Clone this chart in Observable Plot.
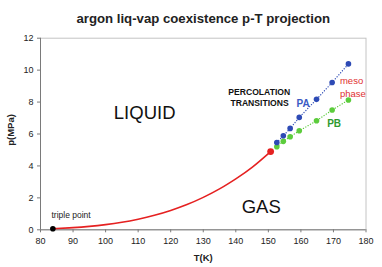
<!DOCTYPE html>
<html>
<head>
<meta charset="utf-8">
<script src="https://cdn.jsdelivr.net/npm/d3@7"></script>
<script src="https://cdn.jsdelivr.net/npm/@observablehq/plot@0.6"></script>
<style>
  html, body { margin: 0; padding: 0; background: #fff; }
</style>
</head>
<body>
<div id="chart"></div>
<script>
// Coexistence curve (vapour pressure)
const curveT = [83.8, 85, 90, 95, 100, 105, 110, 115, 120, 125, 130, 135, 140, 145, 150.7];
const curveP = [0.069, 0.079, 0.134, 0.213, 0.324, 0.470, 0.665, 0.908, 1.213, 1.58, 2.03, 2.56, 3.19, 3.91, 4.90];

// Percolation transitions
const percT = [152.6, 154.6, 156.7, 159.5, 164.8, 169.6, 174.6];
const paP = [5.47, 5.89, 6.35, 7.04, 8.17, 9.23, 10.39];
const pbP = [5.20, 5.54, 5.83, 6.20, 6.83, 7.50, 8.13];

const tripleT = [83.8];
const tripleP = [0.07];
const criticalT = [150.7];
const criticalP = [4.90];

const xTicks = [80, 90, 100, 110, 120, 130, 140, 150, 160, 170, 180];
const yTicks = [0, 2, 4, 6, 8, 10, 12];

const title = "argon liq-vap coexistence p-T projection";
const xLabel = "T(K)";
const yLabel = "p(MPa)";

const labelNames = ["LIQUID", "GAS", "PERCOLATION", "TRANSITIONS", "PA", "meso", "phase", "PB", "triple point"];
const labelT = [112, 147.8, 147.2, 147.3, 160.7, 172, 172, 170.2, 89.4];
const labelP = [7.3, 1.4, 8.62, 7.9, 7.92, 9.32, 8.48, 6.66, 0.94];

const curve = curveT.map((t, i) => ({T: t, p: curveP[i]}));
const pa = percT.map((t, i) => ({T: t, p: paP[i]}));
const pb = percT.map((t, i) => ({T: t, p: pbP[i]}));
const triple = tripleT.map((t, i) => ({T: t, p: tripleP[i]}));
const critical = criticalT.map((t, i) => ({T: t, p: criticalP[i]}));
const lab = (i) => [{T: labelT[i], p: labelP[i], s: labelNames[i]}];

const font = "'Liberation Sans', Arial, sans-serif";

const chart = Plot.plot({
  width: 382,
  height: 267,
  marginLeft: 40,
  marginRight: 16.5,
  marginTop: 37.7,
  marginBottom: 37.7,
  style: {fontFamily: font, background: "#fff", color: "#222"},
  x: {domain: [80, 180]},
  y: {domain: [0, 12]},
  marks: [
    Plot.frame({stroke: "#c4c4c4"}),
    Plot.ruleX([80], {stroke: "#7a7a7a"}),
    Plot.ruleY([0], {stroke: "#7a7a7a"}),
    Plot.axisX({ticks: xTicks, tickSize: 3, tickPadding: 5, fontSize: 9, label: null, stroke: "#7a7a7a"}),
    Plot.axisY({ticks: yTicks, tickSize: 3, tickPadding: 4, fontSize: 9, label: null, stroke: "#7a7a7a"}),
    Plot.text([title], {frameAnchor: "top", lineAnchor: "middle", dy: -19, dx: 0, fontSize: 13.2, fontWeight: "bold", fill: "#222"}),
    Plot.text([xLabel], {frameAnchor: "bottom", lineAnchor: "middle", dy: 28, dx: 0, fontSize: 9.5, fontWeight: "bold", fill: "#222"}),
    Plot.text([yLabel], {x: 80, y: 6.25, dx: -30, rotate: -90, fontSize: 9.5, fontWeight: "bold", fill: "#222"}),
    Plot.line(curve, {x: "T", y: "p", stroke: "#e52121", strokeWidth: 1.6, curve: "natural"}),
    Plot.line(pa, {x: "T", y: "p", stroke: "#3350b8", strokeWidth: 1.3, strokeDasharray: "0.1,2.6", strokeLinecap: "round"}),
    Plot.line(pb, {x: "T", y: "p", stroke: "#5ccc3c", strokeWidth: 1.3, strokeDasharray: "0.1,2.6", strokeLinecap: "round"}),
    Plot.dot(pb, {x: "T", y: "p", r: 2.8, fill: "#5ccc3c", stroke: "none"}),
    Plot.dot(pa, {x: "T", y: "p", r: 2.8, fill: "#2d4ab5", stroke: "none"}),
    Plot.dot(critical, {x: "T", y: "p", r: 3.4, fill: "#e52121", stroke: "none"}),
    Plot.dot(triple, {x: "T", y: "p", r: 2.8, fill: "#000", stroke: "none"}),
    Plot.text(lab(0), {x: "T", y: "p", text: "s", fontSize: 18.5, fill: "#111"}),
    Plot.text(lab(1), {x: "T", y: "p", text: "s", fontSize: 18.5, fill: "#111"}),
    Plot.text(lab(2), {x: "T", y: "p", text: "s", fontSize: 8.6, fontWeight: "bold", fill: "#111"}),
    Plot.text(lab(3), {x: "T", y: "p", text: "s", fontSize: 8.6, fontWeight: "bold", fill: "#111"}),
    Plot.text(lab(4), {x: "T", y: "p", text: "s", fontSize: 10, fontWeight: 600, fill: "#3a5ac4"}),
    Plot.text(lab(5), {x: "T", y: "p", text: "s", fontSize: 9.5, fill: "#e03030", textAnchor: "start"}),
    Plot.text(lab(6), {x: "T", y: "p", text: "s", fontSize: 9.5, fill: "#e03030", textAnchor: "start"}),
    Plot.text(lab(7), {x: "T", y: "p", text: "s", fontSize: 10, fontWeight: "bold", fill: "#2e9a2e"}),
    Plot.text(lab(8), {x: "T", y: "p", text: "s", fontSize: 8.5, fill: "#222"})
  ]
});
document.getElementById("chart").appendChild(chart);
</script>
</body>
</html>
